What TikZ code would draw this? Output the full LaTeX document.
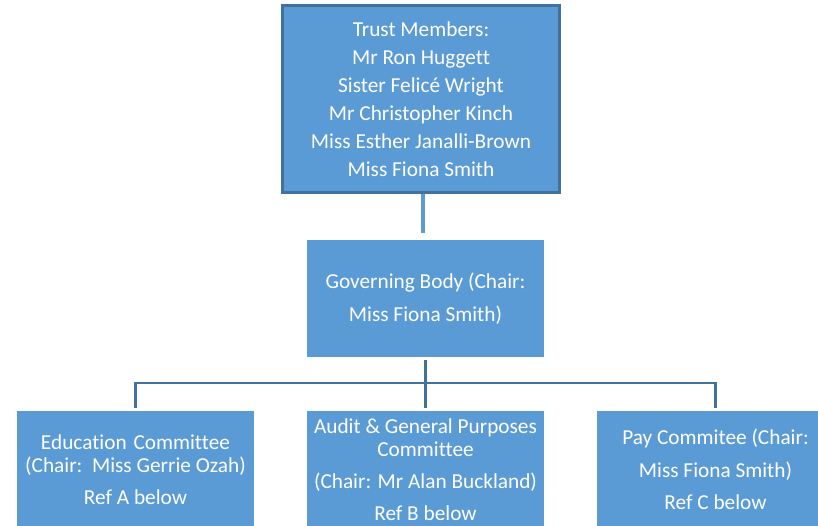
\documentclass[tikz,border=0pt]{standalone}
\usepackage{fontspec}
\setmainfont[Ligatures=NoCommon]{Carlito}
\definecolor{boxblue}{HTML}{5B9BD5}
\definecolor{edgeblue}{HTML}{41719C}
\begin{document}
\begin{tikzpicture}[x=1pt, y=-1pt]
      \tikzstyle{committee} = [rectangle, minimum width=237pt, minimum height=117pt, text centered, align=center, fill=boxblue, text=white, inner sep=0pt, font=\fontsize{21.3}{23}\selectfont]
      \tikzstyle{link} = [line width=2.5pt, edgeblue, shorten <=3pt, shorten >=3pt]

      \useasboundingbox (0,0) rectangle (818,526);
      \clip (0,0) rectangle (818,526);

      \node (trust) [committee, draw=edgeblue, line width=3pt, minimum width=277pt, minimum height=187pt] at (421,99) {Trust Members:\\[5pt] Mr Ron Huggett\\[5pt] Sister Felicé Wright\\[5pt] Mr Christopher Kinch\\[5pt] Miss Esther Janalli-Brown\\[5pt] Miss Fiona Smith};
      \node (governing) [committee] at (425.5,298.5) {Governing Body (Chair:\\[10pt] Miss Fiona Smith)};
      \node (education) [committee] at (135.5,469.5) {Education\hspace{2pt} Committee\\ (Chair:\ \ Miss Gerrie Ozah)\\[9pt] Ref A below};
      \node (audit) [committee] at (425.5,469.5) {Audit \& General Purposes\\ Committee\\[9pt] (Chair: Mr Alan Buckland)\\[9pt] Ref B below};
      \node (pay) [committee] at (715.5,469.5) {Pay Commitee (Chair:\\[10pt] Miss Fiona Smith)\\[9pt] Ref C below};

      \draw [line width=4pt, boxblue, shorten >=7pt] (trust.south -| 423,0) -- (governing.north -| 423,0);
      \draw [link] (governing) -- (audit);
      \draw [link] (education.north) -- ++(0,-28) -| (pay.north);
    \end{tikzpicture}
\end{document}
